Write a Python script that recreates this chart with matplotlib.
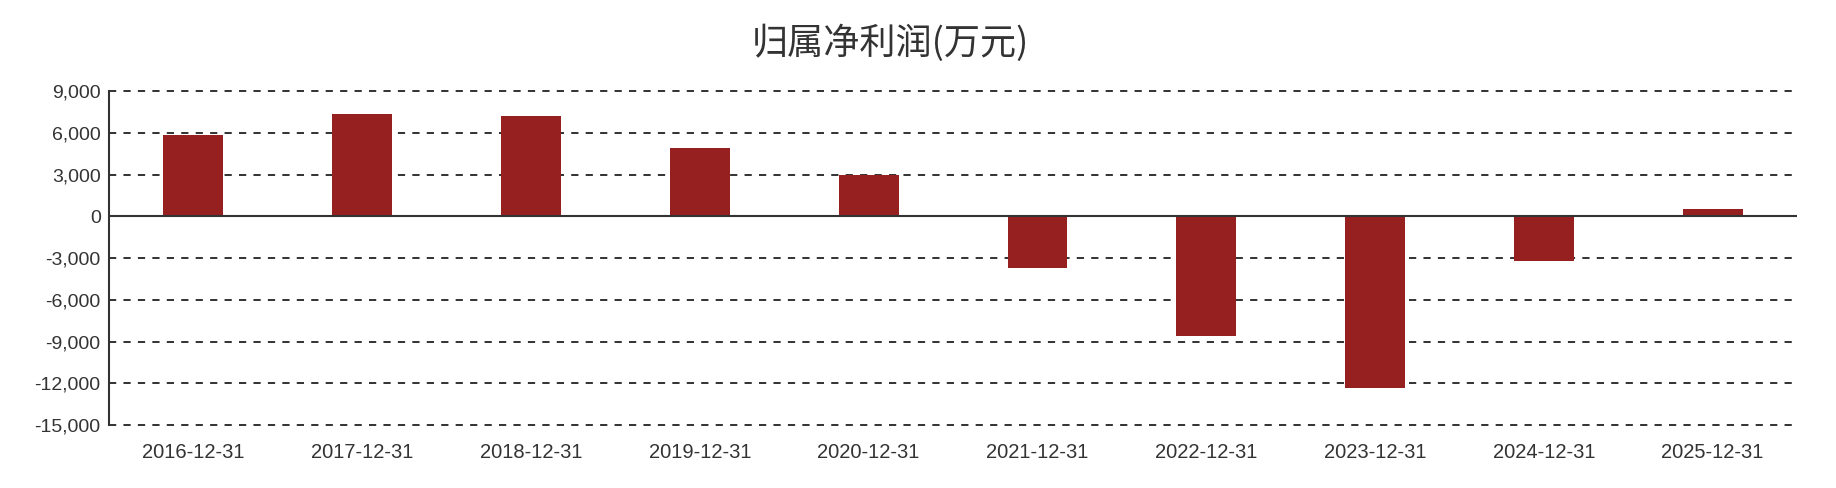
import matplotlib
matplotlib.use('Agg')
import matplotlib.pyplot as plt
from matplotlib.ticker import FuncFormatter

plt.rcParams['font.family'] = ['Liberation Sans', 'Noto Sans CJK SC', 'DejaVu Sans']

dates = ['2016-12-31', '2017-12-31', '2018-12-31', '2019-12-31', '2020-12-31',
         '2021-12-31', '2022-12-31', '2023-12-31', '2024-12-31', '2025-12-31']
profit = [5850, 7380, 7200, 4900, 2950, -3700, -8580, -12350, -3180, 540]
y_ticks = [-15000, -12000, -9000, -6000, -3000, 0, 3000, 6000, 9000]

title = '归属净利润(万元)'
bar_color = '#962020'
text_color = '#333333'


def main():
    fig = plt.figure(figsize=(18.36, 4.88), dpi=100)
    ax = fig.add_axes([0.0594, 0.129, 0.9194, 0.6845])

    x = list(range(len(dates)))
    ax.bar(x, profit, width=0.355, color=bar_color, zorder=3)

    ax.set_xlim(-0.5, len(dates) - 0.5)
    ax.set_ylim(-15000, 9000)
    ax.set_yticks(y_ticks)
    ax.yaxis.set_major_formatter(FuncFormatter(lambda v, p: '{:,.0f}'.format(v)))
    ax.set_xticks(x)
    ax.set_xticklabels(dates)

    for y in y_ticks:
        if y != 0:
            ax.axhline(y, color='#222222', linestyle=(0, (4, 4)), linewidth=1.3,
                       zorder=1, clip_on=False)
    ax.axhline(0, color=text_color, linewidth=1.5, zorder=4)

    for s in ['top', 'right', 'bottom']:
        ax.spines[s].set_visible(False)
    ax.spines['left'].set_color(text_color)
    ax.spines['left'].set_linewidth(1.5)

    ax.tick_params(axis='x', length=0, pad=13, labelsize=14.5, labelcolor=text_color)
    ax.tick_params(axis='y', length=0, pad=6, labelsize=14, labelcolor=text_color)

    fig.text(0.485, 0.912, title, ha='center', va='center', fontsize=26,
             color=text_color, family=['Noto Sans CJK SC', 'DejaVu Sans'])

    fig.savefig('out.png', dpi=100)


if __name__ == '__main__':
    main()
